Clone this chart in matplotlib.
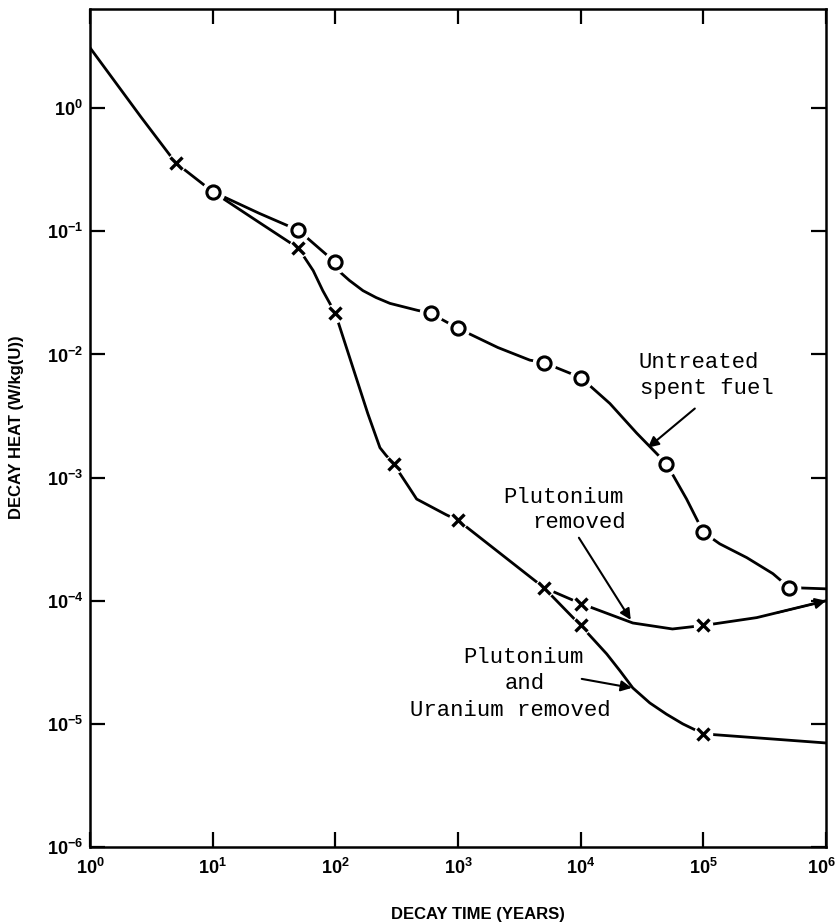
#!/usr/bin/env python3
"""
Decay heat of spent fuel vs. decay time (log-log),
untreated / plutonium removed / plutonium + uranium removed.
"""
import matplotlib; matplotlib.use("Agg")
import matplotlib.pyplot as plt
from matplotlib.ticker import FixedLocator, FixedFormatter, NullLocator

plt.rcParams["font.family"] = ["Liberation Sans", "DejaVu Sans"]
plt.rcParams["font.weight"] = "bold"

# ============================================================================
# traced curves (years, W/kg(U))
# ============================================================================

T_COMMON = [1, 2.6, 5, 10]
Y_COMMON = [3.1, 0.85, 0.36, 0.21]

T_UNTREATED = [10, 24, 50, 100, 110, 130, 168, 215, 279, 462, 600, 1000, 2110,
               3850, 5000, 1e4, 1.73e4, 2.86e4, 5e4, 7.3e4, 1e5, 1.36e5, 2.26e5,
               3.69e5, 5e5, 1e6]
Y_UNTREATED = [0.21, 0.14, 0.102, 0.056, 0.0464, 0.040, 0.033, 0.029, 0.026,
               0.0229, 0.0216, 0.0163, 0.0114, 0.0090, 0.0086, 0.0065, 0.0040,
               0.0023, 0.0013, 6.7e-4, 3.6e-4, 2.9e-4, 2.24e-4, 1.66e-4,
               1.28e-4, 1.25e-4]

T_PU = [10, 24, 50, 66, 79, 100, 139, 184, 231, 260, 300, 336, 400, 460, 800,
        1000, 5000, 1e4, 2.66e4, 5.6e4, 1e5, 2.73e5, 1e6]
Y_PU = [0.21, 0.118, 0.073, 0.048, 0.033, 0.0216, 0.00784, 0.00331, 0.00175,
        0.00151, 0.0013, 0.00108, 8.3e-4, 6.7e-4, 5.0e-4, 4.5e-4, 1.28e-4,
        9.5e-5, 6.6e-5, 5.9e-5, 6.3e-5, 7.3e-5, 1.0e-4]

T_PU_U = [5000, 1e4, 1.63e4, 2.09e4, 2.66e4, 3.66e4, 5e4, 6.8e4, 1e5, 1e6]
Y_PU_U = [1.28e-4, 6.3e-5, 3.7e-5, 2.7e-5, 1.96e-5, 1.48e-5, 1.2e-5, 1.0e-5,
          8.3e-6, 7.0e-6]

# calculated points
T_O = [10, 50, 100, 600, 1000, 5000, 1e4, 5e4, 1e5, 5e5]
Y_O = [0.21, 0.102, 0.056, 0.0216, 0.0163, 0.0086, 0.0065, 0.0013, 3.6e-4, 1.28e-4]
T_X_PU = [5, 50, 100, 300, 1000, 5000, 1e4, 1e5]
Y_X_PU = [0.36, 0.073, 0.0216, 0.0013, 4.5e-4, 1.28e-4, 9.5e-5, 6.3e-5]
T_X_PU_U = [1e4, 1e5]
Y_X_PU_U = [6.3e-5, 8.3e-6]

X_TICKS = [1, 10, 100, 1e3, 1e4, 1e5, 1e6]
X_LABELS = [r"$\mathdefault{10^{%d}}$" % i for i in range(6)] + [""]
X_LAST = r"$\mathdefault{10^{6}}$"
Y_TICKS = [1e-6, 1e-5, 1e-4, 1e-3, 1e-2, 1e-1, 1]
Y_LABELS = [r"$\mathdefault{10^{%d}}$" % i for i in range(-6, 1)]

MONO = dict(family="Liberation Mono", fontsize=16, fontweight="normal")
ARROW = dict(arrowstyle="-|>", lw=1.5, color="black", mutation_scale=16,
             shrinkA=0, shrinkB=0)


def plot():
    fig = plt.figure(figsize=(8.38, 9.24), dpi=100)
    ax = fig.add_axes([0.1074, 0.0833, 0.8783, 0.907])

    for t, y in [(T_COMMON, Y_COMMON), (T_UNTREATED, Y_UNTREATED),
                 (T_PU, Y_PU), (T_PU_U, Y_PU_U)]:
        ax.plot(t, y, color="black", lw=2, zorder=2)

    # white halos give the small gaps around the symbols
    ax.plot(T_O, Y_O, "o", ms=16, color="white", zorder=3)
    ax.plot(T_X_PU + T_X_PU_U, Y_X_PU + Y_X_PU_U, "o", ms=13, color="white", zorder=3)
    ax.plot(T_O, Y_O, "o", ms=9.5, mfc="white", mec="black", mew=2.2, zorder=4)
    ax.plot(T_X_PU + T_X_PU_U, Y_X_PU + Y_X_PU_U, "x", ms=8.5, color="black",
            mew=2.4, zorder=4)

    ax.set_xscale("log"); ax.set_yscale("log")
    ax.set_xlim(1, 1e6); ax.set_ylim(1e-6, 6.4)
    ax.xaxis.set_major_locator(FixedLocator(X_TICKS))
    ax.xaxis.set_major_formatter(FixedFormatter(X_LABELS))
    ax.yaxis.set_major_locator(FixedLocator(Y_TICKS))
    ax.yaxis.set_major_formatter(FixedFormatter(Y_LABELS))
    ax.xaxis.set_minor_locator(NullLocator())
    ax.yaxis.set_minor_locator(NullLocator())
    ax.tick_params(which="major", direction="in", length=11, width=1.6,
                   top=True, right=True, labelsize=13)
    ax.tick_params(axis="x", pad=8)
    ax.tick_params(axis="y", pad=5)
    for s in ax.spines.values():
        s.set_linewidth(1.8)
    # last x label hugs the right edge, as in the original
    ax.text(1.0136, -0.0131, X_LAST, transform=ax.transAxes, fontsize=13,
            ha="right", va="top")

    # labels
    ax.text(2.98e4, 7.84e-3, "Untreated", **MONO)
    ax.text(3.03e4, 4.82e-3, "spent fuel", **MONO)
    ax.annotate("", xy=(3.53e4, 1.75e-3), xytext=(8.52e4, 3.64e-3), arrowprops=ARROW)

    ax.text(2.32e3, 6.26e-4, "Plutonium", **MONO)
    ax.text(4.0e3, 3.92e-4, "removed", **MONO)
    ax.annotate("", xy=(2.56e4, 7.0e-5), xytext=(9.67e3, 3.25e-4), arrowprops=ARROW)
    ax.annotate("", xy=(1e6, 1.0e-4), xytext=(4.0e5, 8.0e-5), arrowprops=ARROW)

    ax.text(1.10e3, 3.13e-5, "Plutonium", **MONO)
    ax.text(2.41e3, 1.93e-5, "and", **MONO)
    ax.text(4.05e2, 1.16e-5, "Uranium removed", **MONO)
    ax.annotate("", xy=(2.61e4, 1.96e-5), xytext=(1.02e4, 2.32e-5), arrowprops=ARROW)

    fig.text(478 / 838, 1 - 915 / 924, "DECAY TIME (YEARS)", fontsize=12,
             ha="center", va="center")
    fig.text(17 / 838, 1 - 427 / 924, "DECAY HEAT (W/kg(U))", fontsize=12,
             rotation=90, ha="center", va="center")

    fig.savefig("out.png", dpi=100, facecolor="white")
    plt.close(fig)


if __name__ == "__main__":
    plot()
